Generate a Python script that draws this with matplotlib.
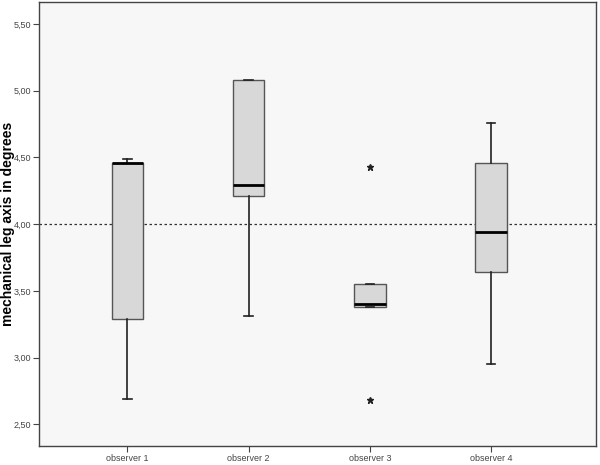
import matplotlib
matplotlib.use("Agg")
import matplotlib.pyplot as plt
from matplotlib.ticker import FuncFormatter

observers = ["observer 1", "observer 2", "observer 3", "observer 4"]
whisker_low = [2.69, 3.31, 3.38, 2.95]
q1 = [3.29, 4.21, 3.38, 3.64]
median = [4.455, 4.29, 3.40, 3.94]
q3 = [4.457, 5.08, 3.55, 4.46]
whisker_high = [4.49, 5.08, 3.55, 4.76]
outliers = [[], [], [4.43, 2.68], []]
reference = 4.0

stats = []
for i, name in enumerate(observers):
    stats.append({
        "label": name, "whislo": whisker_low[i], "q1": q1[i], "med": median[i],
        "q3": q3[i], "whishi": whisker_high[i], "fliers": outliers[i],
    })

plt.rcParams["font.family"] = ["Liberation Sans", "DejaVu Sans"]

fig = plt.figure(figsize=(6.0, 4.65), dpi=100)
ax = fig.add_axes([0.065, 0.041, 0.928, 0.955])
ax.set_facecolor("#f7f7f7")

ax.axhline(reference, color="#333333", lw=0.9, ls=(0, (2, 2)), zorder=1)

ax.bxp(
    stats, positions=[1, 2, 3, 4], widths=0.26, patch_artist=True,
    boxprops=dict(facecolor="#d8d8d8", edgecolor="#555555", linewidth=1.0),
    medianprops=dict(color="black", linewidth=2.0),
    whiskerprops=dict(color="#222222", linewidth=1.2),
    capprops=dict(color="#222222", linewidth=1.2),
    capwidths=0.07,
    flierprops=dict(marker="*", markersize=5, markerfacecolor="#222222",
                    markeredgecolor="#222222", linestyle="none"),
    zorder=2,
)

ax.set_xlim(0.272, 4.863)
ax.set_ylim(2.337, 5.667)
ax.set_yticks([2.5, 3.0, 3.5, 4.0, 4.5, 5.0, 5.5])
ax.yaxis.set_major_formatter(FuncFormatter(lambda v, p: f"{v:.2f}".replace(".", ",")))
ax.set_xticks([1, 2, 3, 4])
ax.set_xticklabels(observers)
ax.tick_params(axis="both", labelsize=6.5, colors="#444444", length=4, width=0.8)
ax.tick_params(axis="y", pad=1.5)
ax.tick_params(axis="x", pad=2)
ax.set_ylabel("mechanical leg axis in degrees", fontsize=10, fontweight="bold",
              color="black")
ax.yaxis.set_label_coords(-0.043, 0.5)

for spine in ax.spines.values():
    spine.set_color("#444444")
    spine.set_linewidth(1.0)

fig.savefig("out.png", dpi=100)
